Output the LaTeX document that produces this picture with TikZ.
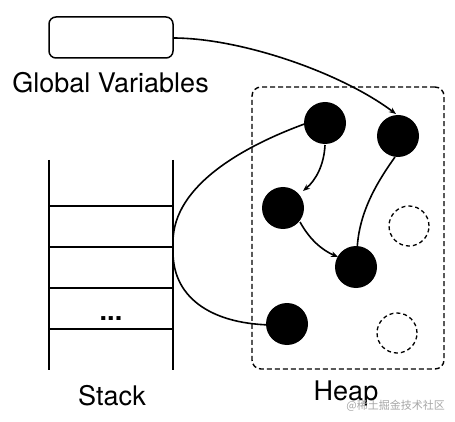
\documentclass[tikz,border=0pt]{standalone}
\usepackage{fontspec}
\setmainfont{TeX Gyre Heros}
\newfontfamily\cjk{Noto Sans CJK SC}
\usetikzlibrary{arrows.meta}
\begin{document}
\begin{tikzpicture}[x=1pt,y=-1pt,
  ln/.style={line width=1.6pt,black},
  arr/.style={ln,-{Stealth[length=7pt,width=5.5pt]}},
  obj/.style={circle,fill=black,minimum size=42pt,inner sep=0pt},
  free/.style={circle,draw,dashed,line width=1.3pt,minimum size=40pt,inner sep=0pt,dash pattern=on 4pt off 3pt},
  lbl/.style={font=\fontsize{27}{32}\selectfont,inner sep=0pt,anchor=base}]
\useasboundingbox (0,0) rectangle (455,422);
% global variables box
\node[draw,line width=1.5pt,rounded corners=7pt,minimum width=124pt,minimum height=41pt,inner sep=0pt] (gv) at (111,37.5) {};
\node[lbl] (gvl) at (110.5,93) {Global Variables};
% heap box
\node[draw,dashed,dash pattern=on 5pt off 3pt,line width=1.4pt,rounded corners=9pt,minimum width=192pt,minimum height=282pt,inner sep=0pt] (heap) at (348,228) {};
\node[lbl] (heapl) at (346,400) {Heap};
% stack
\coordinate (sl1) at (49,160); \coordinate (sl2) at (49,370);
\coordinate (sr1) at (173,160); \coordinate (sr2) at (173,370);
\draw[ln] (sl1) -- (sl2);
\draw[ln] (sr1) -- (sr2);
\foreach \y/\n in {206/h1,247/h2,288/h3,329/h4}{
  \coordinate (\n a) at (49,\y); \coordinate (\n b) at (173,\y);
  \draw[ln] (\n a) -- (\n b);
}
\node[font=\bfseries\fontsize{27}{30}\selectfont,inner sep=0pt,anchor=base] (dots) at (111,320) {...};
\node[lbl] (stackl) at (112,405) {Stack};
% connectors (drawn before circles)
\coordinate (s1) at (173,242);
\coordinate (s2) at (173,252);
\coordinate (gvr) at (173,38);
\draw[arr] (gvr) .. controls (240,38) and (340,72) .. (396,114);
\draw[ln] (s1) .. controls (173,185) and (245,145) .. (310,122);
\draw[ln] (s2) .. controls (173,300) and (215,325) .. (275,325);
\draw[arr] (325,145) .. controls (324,165) and (316,180) .. (303,191);
\draw[arr] (300,222) .. controls (310,240) and (322,250) .. (338,257);
\draw[ln] (395,157) .. controls (375,185) and (358,215) .. (357,252);
% objects
\node[obj] (c1) at (325,123) {};
\node[obj] (c2) at (398,136) {};
\node[obj] (c3) at (283,208) {};
\node[obj] (c4) at (356,267) {};
\node[obj] (c5) at (287,324) {};
\node[free] (d1) at (409,226) {};
\node[free] (d2) at (397,333) {};
% watermark
\node[font=\cjk\fontsize{11}{13}\selectfont,text=black!35,anchor=east,inner sep=0pt] (wm) at (445,406) {@稀土掘金技术社区};
\end{tikzpicture}
\end{document}
